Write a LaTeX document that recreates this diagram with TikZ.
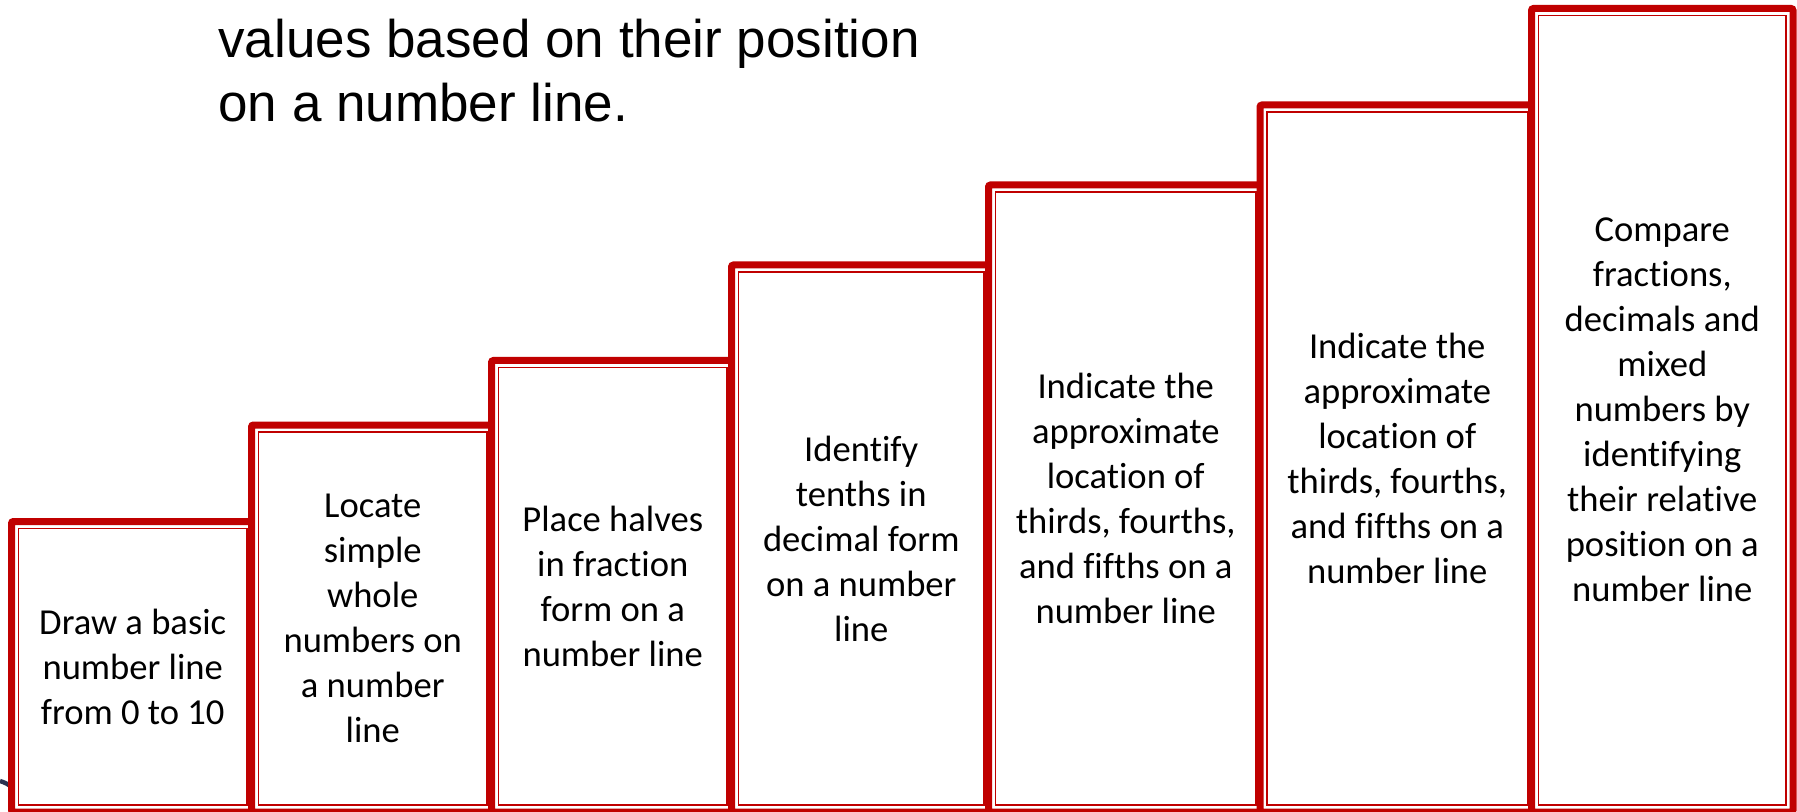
\documentclass[tikz,border=0pt]{standalone}
\usepackage{fontspec}
\setmainfont{Carlito}[Ligatures={NoCommon}]
\newfontfamily\headfamily{Liberation Sans}
\definecolor{boxred}{HTML}{C00000}
\definecolor{curvenavy}{HTML}{2B3150}
\newcommand\boxtextfont{\fontsize{18.3pt}{22.5pt}\selectfont}
\newcommand\headtextfont{\headfamily\fontsize{26.5pt}{32pt}\selectfont}
\begin{document}
\begin{tikzpicture}[x=0.5pt,y=-0.5pt,
  stepbox/.style={draw=boxred, line width=3.5pt, rounded corners=1pt, fill=white,
    align=center, inner sep=0pt, font=\boxtextfont, text=black,
    path picture={\draw[boxred, line width=0.9pt, sharp corners]
      ([shift={(3.5pt,-3.5pt)}]path picture bounding box.north west) rectangle
      ([shift={(-3.5pt,3.5pt)}]path picture bounding box.south east);}},
  headline/.style={anchor=base west, inner sep=0pt, font=\headtextfont, text=black}]
\useasboundingbox (0,0) rectangle (1797,812);
\clip (0,0) rectangle (1797,812);
% curve behind first box
\coordinate (c0) at (0,781);
\coordinate (c1) at (18,791);
\draw[curvenavy, line width=2.2pt] (c0) .. controls (6,783) .. (c1);
% steps
\node[stepbox, minimum width=121.25pt, minimum height=145.25pt] (b1) at (132.75,666.75)
  {Draw a basic\\number line\\from 0 to 10};
\node[stepbox, minimum width=121.25pt, minimum height=193.5pt] (b2) at (372.75,618.5)
  {Locate\\simple\\whole\\numbers on\\a number\\line};
\node[stepbox, minimum width=121.25pt, minimum height=225.75pt] (b3) at (612.75,586.25)
  {Place halves\\in fraction\\form on a\\number line};
\node[stepbox, minimum width=129.75pt, minimum height=273.5pt] (b4) at (861.25,538.5)
  {Identify\\tenths in\\decimal form\\on a number\\line};
\node[stepbox, minimum width=137.25pt, minimum height=313.5pt] (b5) at (1125.75,498.5)
  {Indicate the\\approximate\\location of\\thirds, fourths,\\and fifths on a\\number line};
\node[stepbox, minimum width=137.25pt, minimum height=353.5pt] (b6) at (1397.25,458.5)
  {Indicate the\\approximate\\location of\\thirds, fourths,\\and fifths on a\\number line};
\node[stepbox, minimum width=130.75pt, minimum height=401.75pt] (b7) at (1662.25,410.25)
  {Compare\\fractions,\\decimals and\\mixed\\numbers by\\identifying\\their relative\\position on a\\number line};
% heading text
\node[headline] (h1) at (218,58) {values based on their position};
\node[headline] (h2) at (218,122) {on a number line.};
\end{tikzpicture}
\end{document}
